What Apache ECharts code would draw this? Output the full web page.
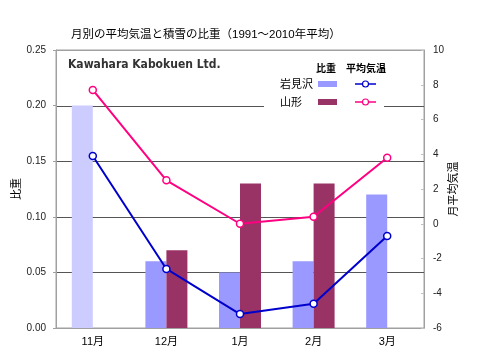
<!DOCTYPE html>
<html><head><meta charset="utf-8">
<script src="https://cdn.jsdelivr.net/npm/echarts@6/dist/echarts.min.js"></script>
<style>html,body{margin:0;padding:0;background:#fff}#c{width:480px;height:360px}</style>
</head><body><div id="c"></div>
<script>
var months = ['11月','12月','1月','2月','3月'];
var stations = ['岩見沢','山形'];
var ratioIwamizawa = [0.20, 0.06, 0.05, 0.06, 0.12];
var ratioYamagata = [null, 0.07, 0.13, 0.13, null];
var tempIwamizawa = [3.9, -2.6, -5.2, -4.6, -0.7];
var tempYamagata = [7.7, 2.5, 0.0, 0.4, 3.8];
var titleText = '月別の平均気温と積雪の比重（1991～2010年平均）';
var company = 'Kawahara Kabokuen Ltd.';
var hiddenGridValue = 0.20;

var cjk = '"Liberation Sans", "Noto Sans CJK JP", sans-serif';
var cIwaBar = '#9999FF', cIwaBar0 = '#CCCCFF', cYamaBar = '#993366';
var cIwaLine = '#0000CC', cYamaLine = '#FF0080';
var gridCol = '#555', frameCol = '#a0a0a0';
var legendBox = { x: 264, y: 62, w: 120, h: 50 };

function legendElements() {
  return [
    { type: 'text', x: 68, y: 59, style: { text: company, fill: '#333', font: 'bold 12px "DejaVu Sans Condensed", "DejaVu Sans", sans-serif' } },
    { type: 'text', x: 316, y: 63, style: { text: '比重', fill: '#000', font: 'bold 10px "Noto Sans CJK JP", sans-serif' } },
    { type: 'text', x: 346, y: 63, style: { text: '平均気温', fill: '#000', font: 'bold 10px "Noto Sans CJK JP", sans-serif' } },
    { type: 'text', x: 280, y: 78, style: { text: stations[0], fill: '#000', font: '11px "Noto Sans CJK JP", sans-serif' } },
    { type: 'text', x: 280, y: 96, style: { text: stations[1], fill: '#000', font: '11px "Noto Sans CJK JP", sans-serif' } },
    { type: 'rect', shape: { x: 318, y: 81, width: 19, height: 6 }, style: { fill: cIwaBar } },
    { type: 'rect', shape: { x: 318, y: 99, width: 19, height: 6 }, style: { fill: cYamaBar } },
    { type: 'line', shape: { x1: 355, y1: 84, x2: 376, y2: 84 }, style: { stroke: cIwaLine, lineWidth: 1.5 } },
    { type: 'circle', shape: { cx: 365.5, cy: 84, r: 3 }, style: { fill: '#fff', stroke: cIwaLine, lineWidth: 1.2 } },
    { type: 'line', shape: { x1: 355, y1: 102, x2: 376, y2: 102 }, style: { stroke: cYamaLine, lineWidth: 1.5 } },
    { type: 'circle', shape: { cx: 365.5, cy: 102, r: 3 }, style: { fill: '#fff', stroke: cYamaLine, lineWidth: 1.2 } }
  ];
}

var chart = echarts.init(document.getElementById('c'), null, {renderer:'canvas'});
chart.setOption({
  animation: false,
  backgroundColor: '#fff',
  title: { text: titleText, left: 66, top: 24, textStyle: { fontSize: 11.5, fontWeight: 'normal', color: '#000', fontFamily: cjk } },
  grid: { left: 56, right: 56, top: 50, bottom: 32, outerBoundsMode: 'none', containLabel: false,
          show: true, borderColor: frameCol, borderWidth: 1, backgroundColor: 'transparent' },
  xAxis: {
    type: 'category', data: months,
    axisLine: { lineStyle: { color: frameCol } },
    axisTick: { inside: true, length: 3, lineStyle: { color: frameCol } },
    axisLabel: { color: '#000', fontSize: 11, margin: 8, fontFamily: cjk }
  },
  yAxis: [{
    type: 'value', min: 0, max: 0.25, interval: 0.05, position: 'left',
    name: '比重', nameLocation: 'middle', nameGap: 34, nameRotate: 90, nameMoveOverlap: false,
    nameTextStyle: { color: '#000', fontSize: 11, fontFamily: cjk },
    axisLine: { show: true, lineStyle: { color: frameCol } },
    axisTick: { show: true, inside: false, length: 3, lineStyle: { color: frameCol } },
    axisLabel: { color: '#222', fontSize: 10, margin: 10, fontFamily: cjk, formatter: function(v){ return v.toFixed(2); } },
    splitLine: { show: true, showMinLine: true, showMaxLine: true,
      lineStyle: { color: [frameCol, gridCol, gridCol, gridCol, 'rgba(0,0,0,0)', frameCol], width: 1 } }
  },{
    type: 'value', min: -6, max: 10, interval: 2, position: 'right',
    name: '月平均気温', nameLocation: 'middle', nameGap: 24, nameRotate: 90, nameMoveOverlap: false,
    nameTextStyle: { color: '#000', fontSize: 11, fontFamily: cjk },
    axisLine: { show: true, lineStyle: { color: frameCol } },
    axisTick: { show: true, inside: true, length: 3, lineStyle: { color: '#c0c0c0' } },
    axisLabel: { color: '#222', fontSize: 10, margin: 9, fontFamily: cjk },
    splitLine: { show: false }
  }],
  series: [{
    name: stations[0] + '比重', type: 'bar', yAxisIndex: 0, barWidth: 21, barGap: '0%',
    data: ratioIwamizawa.map(function(v, i){ return i === 0 ? { value: v, itemStyle: { color: cIwaBar0 } } : v; }),
    itemStyle: { color: cIwaBar }
  },{
    name: stations[1] + '比重', type: 'bar', yAxisIndex: 0, barWidth: 21, barGap: '0%',
    data: ratioYamagata, itemStyle: { color: cYamaBar }
  },{
    name: stations[0] + '平均気温', type: 'line', yAxisIndex: 1, data: tempIwamizawa,
    symbol: 'circle', symbolSize: 7, showAllSymbol: true,
    lineStyle: { color: cIwaLine, width: 2 },
    itemStyle: { color: '#fff', borderColor: cIwaLine, borderWidth: 1.5 }, z: 4
  },{
    name: stations[1] + '平均気温', type: 'line', yAxisIndex: 1, data: tempYamagata,
    symbol: 'circle', symbolSize: 7, showAllSymbol: true,
    lineStyle: { color: cYamaLine, width: 2 },
    itemStyle: { color: '#fff', borderColor: cYamaLine, borderWidth: 1.5 }, z: 4
  }],
  graphic: { elements: legendElements() }
});

// gridline at 0.20, interrupted by the legend box, positioned through the axes' scales
var gy = Math.round(chart.convertToPixel({ yAxisIndex: 0 }, hiddenGridValue)) + 0.5;
var c0 = chart.convertToPixel({ xAxisIndex: 0 }, months[0]);
var c1 = chart.convertToPixel({ xAxisIndex: 0 }, months[1]);
var cN = chart.convertToPixel({ xAxisIndex: 0 }, months[months.length - 1]);
var band = c1 - c0;
var gx0 = c0 - band / 2, gx1 = cN + band / 2;
var els = legendElements();
els.push({ type: 'line', shape: { x1: gx0, y1: gy, x2: legendBox.x, y2: gy }, style: { stroke: gridCol, lineWidth: 1 } });
els.push({ type: 'line', shape: { x1: legendBox.x + legendBox.w, y1: gy, x2: gx1, y2: gy }, style: { stroke: gridCol, lineWidth: 1 } });
chart.setOption({ graphic: { elements: els } });
</script></body></html>
